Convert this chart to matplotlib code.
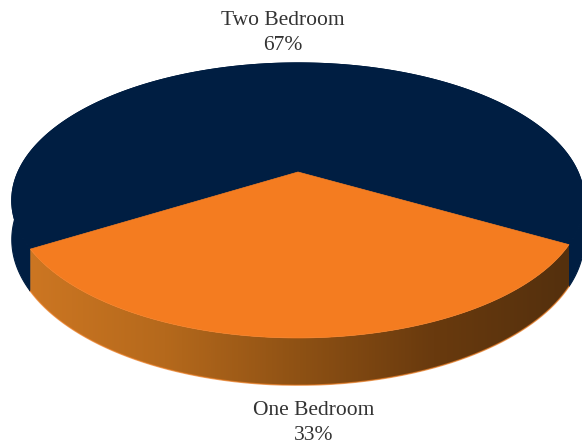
import numpy as np
import matplotlib
matplotlib.use("Agg")
import matplotlib.pyplot as plt
from matplotlib.colors import LinearSegmentedColormap
from matplotlib.patches import Polygon

categories = ["One Bedroom", "Two Bedroom"]
shares = [33, 67]
colors = ["#F47C20", "#001E42"]
START_DEG = 211.5

W, H = 582, 445
X0, Y0, A, B, K, D = 298, 172, 280, 131.6, 0.207, 37.5


def project(t, depth=0.0):
    c, s = np.cos(t), np.sin(t)
    f = 1 / (1 + K * s)
    return X0 + A * c * f, Y0 - B * s * f + depth * f


fig = plt.figure(figsize=(W / 100, H / 100), dpi=100, facecolor="white")
ax = fig.add_axes([0, 0, 1, 1])
ax.set_xlim(0, W)
ax.set_ylim(H, 0)
ax.axis("off")

total = sum(shares)
a0 = np.radians(START_DEG)
a1 = a0 + np.radians(360 * shares[0] / total)
a2 = a0 + 2 * np.pi

# navy side wall (only the near part shows)
tn = np.linspace(a1, a2, 500)
xn = np.r_[project(tn)[0], project(tn[::-1], D)[0]]
yn = np.r_[project(tn)[1], project(tn[::-1], D)[1]]
ax.fill(xn, yn, facecolor=colors[1], edgecolor=colors[1], lw=0.8, zorder=1)

# orange side wall with a left-to-right shade, clipped to the wall outline
shade = LinearSegmentedColormap.from_list(
    "side", ["#CC7622", "#B5691C", "#8E5114", "#693A0E", "#54300D"])
tb = np.linspace(a0, a1, 300)
xs = np.r_[project(tb)[0], project(tb[::-1], D)[0]]
ys = np.r_[project(tb)[1], project(tb[::-1], D)[1]]
wall = Polygon(np.c_[xs, ys], closed=True, transform=ax.transData,
               facecolor="none", edgecolor="none")
ax.add_patch(wall)
grad = ax.imshow(np.linspace(0, 1, 512)[None, :], cmap=shade, aspect="auto",
                 extent=(xs.min(), xs.max(), ys.max(), ys.min()), zorder=2,
                 interpolation="bilinear")
grad.set_clip_path(wall)
ax.set_xlim(0, W)
ax.set_ylim(H, 0)
ax.plot(*project(tb, D), color="#E87A20", lw=1.0, alpha=0.7, zorder=3)

# top surfaces
for t_from, t_to, col, lw in [(a1, a2, colors[1], 0.8), (a0, a1, colors[0], 0.5)]:
    tt = np.linspace(t_from, t_to, 600)
    x, y = project(tt)
    ax.fill(np.r_[X0, x], np.r_[Y0, y], color=col, lw=lw, zorder=4)

font = dict(family="Liberation Serif", fontsize=15.5, color="#333333",
            ha="center", va="center", linespacing=1.45)
ax.text(283, 33, f"{categories[1]}\n{shares[1]}%", zorder=5, **font)
ax.text(314, 423, f"{categories[0]}\n{shares[0]}%", zorder=5, **font)

fig.savefig("out.png", dpi=100)
